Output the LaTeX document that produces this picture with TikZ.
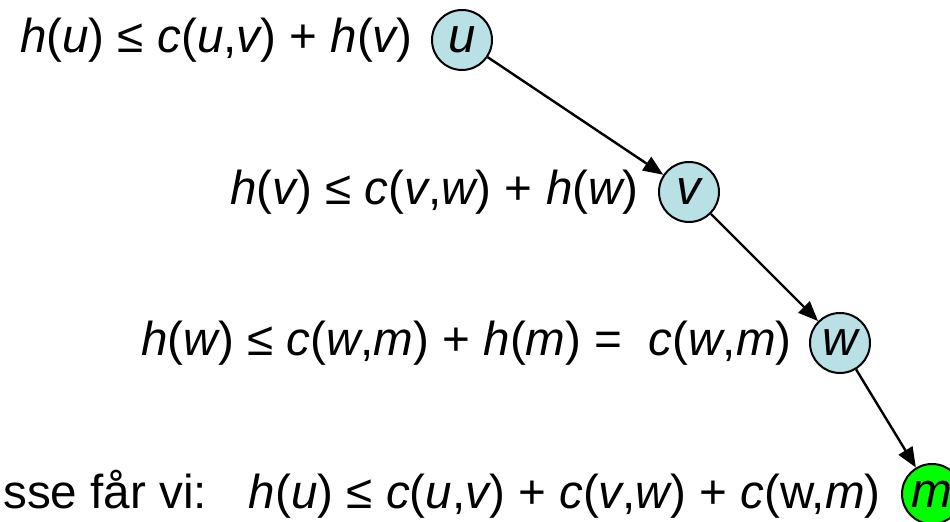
\documentclass[tikz,border=0pt]{standalone}
\usepackage{fontspec}
\setmainfont{Liberation Sans}
\usepackage{tikz}
\usetikzlibrary{arrows.meta,positioning}
\definecolor{nodeblue}{RGB}{185,224,228}
\definecolor{goalgreen}{RGB}{0,255,0}
\newcommand{\iv}[1]{{\itshape #1}}

\begin{document}
\begin{tikzpicture}[
  x=0.5pt, y=-0.5pt,
  font=\fontsize{23.8}{28}\selectfont,
  vert/.style={draw, circle, line width=1pt, minimum size=30pt, inner sep=0pt, fill=nodeblue, font=\fontsize{24.5}{28}\selectfont\itshape},
  ineq/.style={inner sep=0pt},
  arr/.style={-{Triangle[length=10pt,width=8pt]}, line width=1.2pt}
]
\useasboundingbox (0,0) rectangle (950,522);
\node[vert] (u) at (462,40) {u};
\node[vert] (v) at (689,192) {v};
\node[vert] (w) at (840,343) {w};
\node[vert, fill=goalgreen] (m) at (932,494) {m};
\node[ineq, left=9pt of u] (hu) {\iv{h}(\iv{u}) ≤ \iv{c}(\iv{u},\iv{v}) + \iv{h}(\iv{v})};
\node[ineq, left=9.5pt of v] (hv) {\iv{h}(\iv{v}) ≤ \iv{c}(\iv{v},\iv{w}) + \iv{h}(\iv{w})};
\node[ineq, left=8.5pt of w] (hw) {\iv{h}(\iv{w}) ≤ \iv{c}(\iv{w},\iv{m}) + \iv{h}(\iv{m}) =\ \ \iv{c}(\iv{w},\iv{m})};
\node[ineq, left=10pt of m] (sum) {sse får vi:\hspace{0.88em}\iv{h}(\iv{u}) ≤ \iv{c}(\iv{u},\iv{v}) + \iv{c}(\iv{v},\iv{w}) + \iv{c}(w,\iv{m})};
\draw[arr] (u) -- (v);
\draw[arr] (v) -- (w);
\draw[arr] (w) -- (m);
\end{tikzpicture}
\end{document}
